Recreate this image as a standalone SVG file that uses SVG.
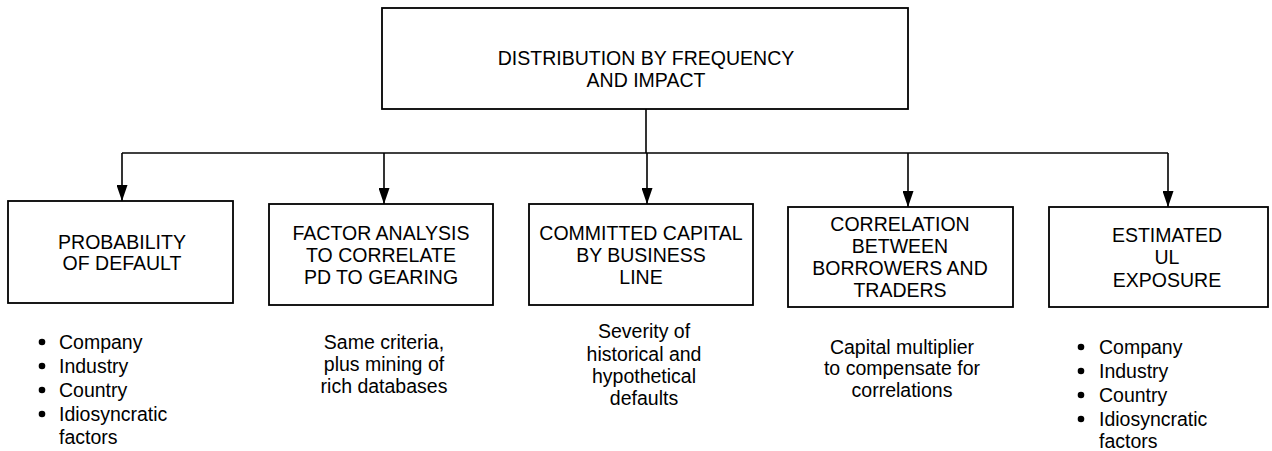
<svg xmlns="http://www.w3.org/2000/svg" width="1272" height="451" viewBox="0 0 1272 451">
  <style>
    .box { fill: #ffffff; stroke: #000000; stroke-width: 1.8; }
    .wire { fill: none; stroke: #000000; stroke-width: 1.6; }
    .t { font-family: "Liberation Sans", Arial, sans-serif; font-size: 19.5px; fill: #000000; text-anchor: middle; }
    .l { font-family: "Liberation Sans", Arial, sans-serif; font-size: 19.5px; fill: #000000; }
    .dot { fill: #000000; }
  </style>
  <defs>
    <marker id="head" markerWidth="16" markerHeight="11" refX="16" refY="5.5" orient="auto" markerUnits="userSpaceOnUse" viewBox="0 0 16 11">
      <path d="M0,0 L16,5.5 L0,11 Z" fill="#000000"/>
    </marker>
  </defs>

  <!-- connectors: stem, bus and drops -->
  <g id="connectors">
    <path class="wire" d="M646,109 V153"/>
    <path class="wire" d="M122,153 H1168"/>
    <path class="wire" d="M122,153 V201" marker-end="url(#head)"/>
    <path class="wire" d="M384,153 V204" marker-end="url(#head)"/>
    <path class="wire" d="M647,153 V204" marker-end="url(#head)"/>
    <path class="wire" d="M908,153 V207" marker-end="url(#head)"/>
    <path class="wire" d="M1168,153 V207" marker-end="url(#head)"/>
  </g>

  <g id="root">
    <rect class="box" x="382" y="8" width="526" height="101"/>
    <text class="t" x="646" y="65">DISTRIBUTION BY FREQUENCY</text>
    <text class="t" x="646" y="87">AND IMPACT</text>
  </g>

  <g id="pd">
    <rect class="box" x="8" y="201" width="225" height="102"/>
    <text class="t" x="122" y="249">PROBABILITY</text>
    <text class="t" x="122" y="270">OF DEFAULT</text>
    <g class="l">
      <circle class="dot" cx="42" cy="342" r="3.3"/>
      <text x="59" y="349">Company</text>
      <circle class="dot" cx="42" cy="366" r="3.3"/>
      <text x="59" y="373">Industry</text>
      <circle class="dot" cx="42" cy="390" r="3.3"/>
      <text x="59" y="397">Country</text>
      <circle class="dot" cx="42" cy="414" r="3.3"/>
      <text x="59" y="421">Idiosyncratic</text>
      <text x="59" y="444">factors</text>
    </g>
  </g>

  <g id="factor">
    <rect class="box" x="269" y="204" width="224" height="101"/>
    <text class="t" x="381" y="240">FACTOR ANALYSIS</text>
    <text class="t" x="381" y="262">TO CORRELATE</text>
    <text class="t" x="381" y="284">PD TO GEARING</text>
    <text class="t" x="384" y="349">Same criteria,</text>
    <text class="t" x="384" y="371">plus mining of</text>
    <text class="t" x="384" y="393">rich databases</text>
  </g>

  <g id="capital">
    <rect class="box" x="529" y="204" width="224" height="101"/>
    <text class="t" x="641" y="240">COMMITTED CAPITAL</text>
    <text class="t" x="641" y="262">BY BUSINESS</text>
    <text class="t" x="641" y="284">LINE</text>
    <text class="t" x="644" y="338">Severity of</text>
    <text class="t" x="644" y="361">historical and</text>
    <text class="t" x="644" y="383">hypothetical</text>
    <text class="t" x="644" y="405">defaults</text>
  </g>

  <g id="correlation">
    <rect class="box" x="788" y="207" width="225" height="100"/>
    <text class="t" x="900" y="231">CORRELATION</text>
    <text class="t" x="900" y="253">BETWEEN</text>
    <text class="t" x="900" y="275">BORROWERS AND</text>
    <text class="t" x="900" y="297">TRADERS</text>
    <text class="t" x="902" y="354">Capital multiplier</text>
    <text class="t" x="902" y="375">to compensate for</text>
    <text class="t" x="902" y="397">correlations</text>
  </g>

  <g id="exposure">
    <rect class="box" x="1049" y="207" width="219" height="100"/>
    <text class="t" x="1167" y="242">ESTIMATED</text>
    <text class="t" x="1167" y="264">UL</text>
    <text class="t" x="1167" y="287">EXPOSURE</text>
    <g class="l">
      <circle class="dot" cx="1081" cy="347" r="3.3"/>
      <text x="1099" y="354">Company</text>
      <circle class="dot" cx="1081" cy="371" r="3.3"/>
      <text x="1099" y="378">Industry</text>
      <circle class="dot" cx="1081" cy="395" r="3.3"/>
      <text x="1099" y="402">Country</text>
      <circle class="dot" cx="1081" cy="419" r="3.3"/>
      <text x="1099" y="426">Idiosyncratic</text>
      <text x="1099" y="448">factors</text>
    </g>
  </g>
</svg>
